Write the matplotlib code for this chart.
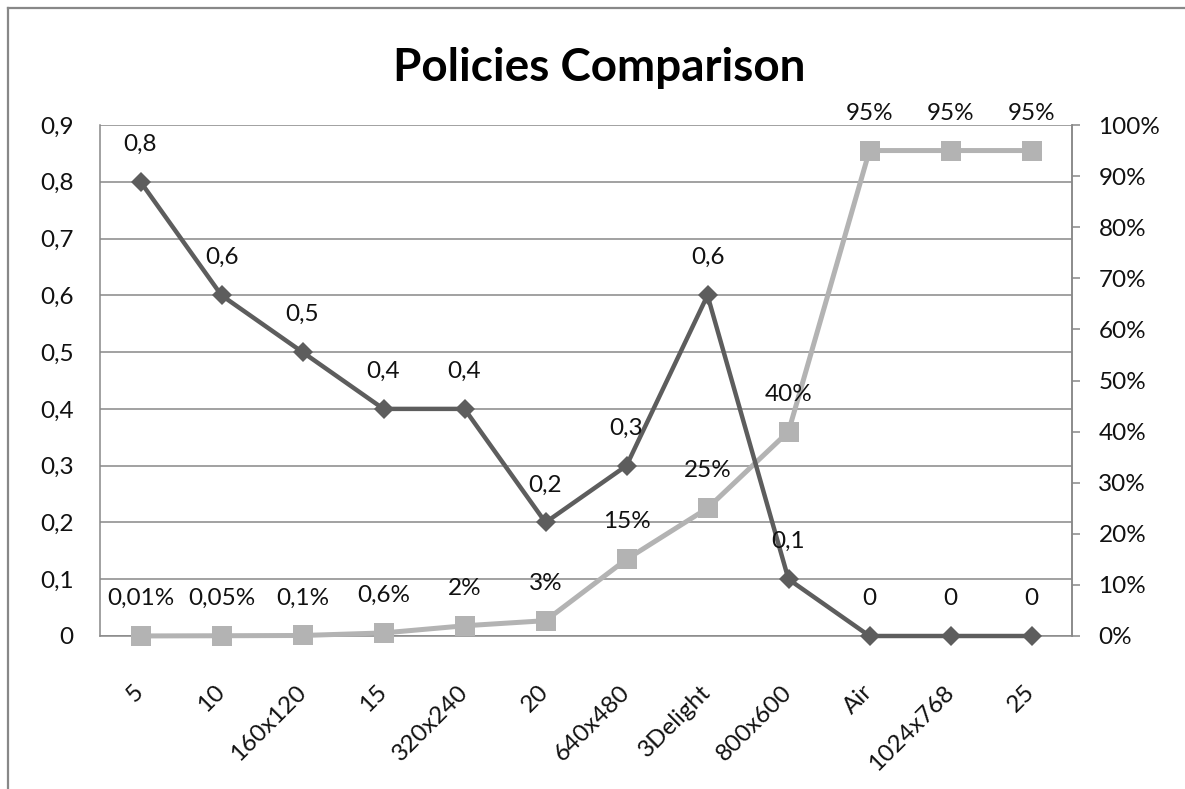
import matplotlib
matplotlib.use('Agg')
import matplotlib.pyplot as plt
from matplotlib.lines import Line2D
from matplotlib.ticker import FixedLocator, FuncFormatter

categories = ['5', '10', '160x120', '15', '320x240', '20', '640x480',
              '3Delight', '800x600', 'Air', '1024x768', '25']
# left axis series (diamonds)
policy_values = [0.8, 0.6, 0.5, 0.4, 0.4, 0.2, 0.3, 0.6, 0.1, 0, 0, 0]
# right axis series (squares), in percent
policy_pct = [0.01, 0.05, 0.1, 0.6, 2, 3, 15, 25, 40, 95, 95, 95]
left_ticks = [0, 0.1, 0.2, 0.3, 0.4, 0.5, 0.6, 0.7, 0.8, 0.9]
right_ticks = [0, 10, 20, 30, 40, 50, 60, 70, 80, 90, 100]

DARK = '#5d5d5d'
LIGHT = '#b3b3b3'
AXIS_GREY = '#888888'
TEXT = '#111111'
FONT = 'Lato'
FS = 17.5
W, H = 1185, 789

plt.rcParams['font.family'] = [FONT, 'DejaVu Sans']
plt.rcParams['text.color'] = TEXT
plt.rcParams['xtick.labelcolor'] = TEXT
plt.rcParams['ytick.labelcolor'] = TEXT


def comma(value):
    return ('%g' % value).replace('.', ',')


fig = plt.figure(figsize=(W / 100, H / 100), dpi=100)
ax = fig.add_axes([100 / W, 153 / H, 972 / W, 511 / H])
x = list(range(len(categories)))

# base axes: left scale, grid and category labels
ax.set_xlim(-0.5, len(categories) - 0.5)
ax.set_ylim(0, 0.9)
ax.yaxis.set_major_locator(FixedLocator(left_ticks))
ax.yaxis.set_major_formatter(FuncFormatter(lambda v, pos: comma(round(v, 1))))
ax.grid(axis='y', color=AXIS_GREY, linewidth=1.1)
ax.set_axisbelow(True)
ax.set_xticks(x)
ax.set_xticklabels(categories, rotation=45, ha='right', va='center',
                   rotation_mode='anchor')
ax.tick_params(axis='x', length=0, pad=38, labelsize=FS)
ax.tick_params(axis='y', length=0, pad=19, labelsize=FS)
for side in ['left', 'bottom', 'right']:
    ax.spines[side].set_color(AXIS_GREY)
    ax.spines[side].set_linewidth(1.1)
ax.spines['top'].set_visible(False)

# secondary axis: percentages
ax2 = ax.twinx()
ax2.set_ylim(0, 100)
ax2.yaxis.set_major_locator(FixedLocator(right_ticks))
ax2.yaxis.set_major_formatter(FuncFormatter(lambda v, pos: '%d%%' % v))
ax2.tick_params(axis='y', direction='out', length=6, width=1.1,
                color=AXIS_GREY, pad=13, labelsize=FS)
for side in ['left', 'bottom', 'top']:
    ax2.spines[side].set_visible(False)
ax2.spines['right'].set_color(AXIS_GREY)
ax2.spines['right'].set_linewidth(1.1)

ax2.plot(x, policy_pct, color=LIGHT, linewidth=3.6, marker='s',
         markersize=14.5, markeredgewidth=0, clip_on=False)
for xi, v in zip(x, policy_pct):
    ax2.annotate(comma(v) + '%', (xi, v), xytext=(0, 27),
                 textcoords='offset points', ha='center', va='center',
                 fontsize=FS, annotation_clip=False)

# third layer so the diamond line sits on top of the square line
ax3 = ax.twinx()
ax3.set_ylim(0, 0.9)
ax3.axis('off')
ax3.plot(x, policy_values, color=DARK, linewidth=3.2, marker='D',
         markersize=10, markeredgewidth=0, clip_on=False)
for xi, v in zip(x, policy_values):
    ax3.annotate(comma(v), (xi, v), xytext=(0, 27),
                 textcoords='offset points', ha='center', va='center',
                 fontsize=FS, annotation_clip=False)

fig.text(599 / W, 1 - 81 / H, 'Policies Comparison', ha='center',
         va='baseline', fontsize=33, fontweight='bold', color='black')

# chart frame (left and top edges fall inside the image)
frame_x = 8 / W
frame_y = 1 - 8 / H
fig.add_artist(Line2D([frame_x, frame_x], [0, frame_y], transform=fig.transFigure,
                      color=AXIS_GREY, linewidth=1.6))
fig.add_artist(Line2D([frame_x, 1], [frame_y, frame_y], transform=fig.transFigure,
                      color=AXIS_GREY, linewidth=1.6))

fig.savefig('out.png', dpi=100, facecolor='white')
